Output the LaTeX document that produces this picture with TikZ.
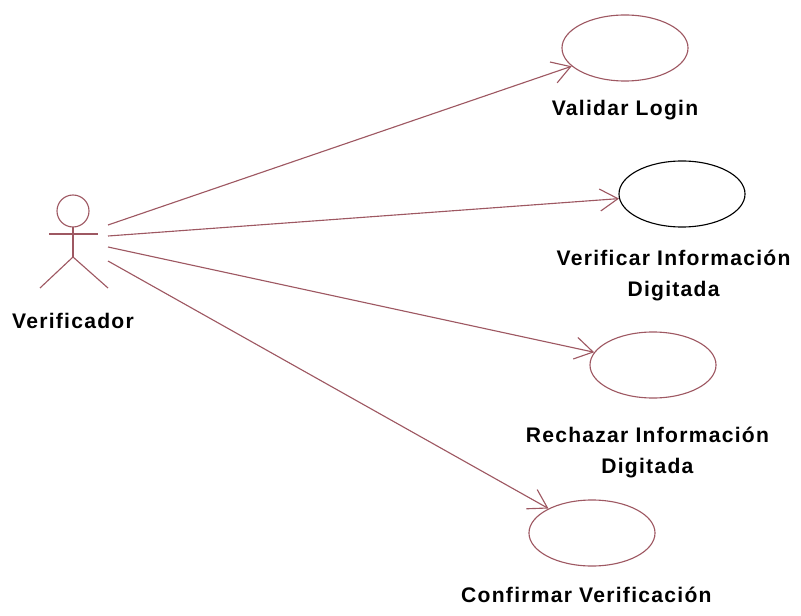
\documentclass[tikz,border=0pt]{standalone}
\usepackage{fontspec}
\setmainfont[LetterSpace=6]{Liberation Sans}
\usetikzlibrary{shapes.geometric,arrows.meta,positioning}
\definecolor{ucline}{RGB}{158,88,98}
\tikzset{
  usecase/.style={draw=ucline, ellipse, thick, minimum width=3.15cm, minimum height=1.65cm, inner sep=0pt},
  uclabel/.style={font=\bfseries\fontsize{15}{22}\selectfont, align=center, inner sep=0pt},
  assoc/.style={->, ucline, thick}
}
\begin{document}
\begin{tikzpicture}[x=0.025cm, y=-0.025cm, >={Straight Barb[length=4.5mm,width=5.5mm]}]
\useasboundingbox (0,0) rectangle (801,616);
% actor
\draw [ucline, thick] (73,211) circle (16);
\draw [ucline, thick] (73,227)--(73,257);
\draw [ucline, thick] (49,234)--(98,234);
\draw [ucline, thick] (73,257)--(40,288);
\draw [ucline, thick] (73,257)--(108,288);
\node [uclabel] (actor) at (73,321) {Verificador};
\coordinate (a1) at (108,225);
\coordinate (a2) at (108,236);
\coordinate (a3) at (108,247);
\coordinate (a4) at (108,261);
% use cases
\node [usecase] (login) at (625,48) {};
\node [uclabel, below=4.5mm of login] (loginT) {Validar Login};
\node [usecase, draw=black] (verif) at (682,194) {};
\node [uclabel, below=5.5mm of verif, xshift=-6] (verifT) {Verificar Información\\Digitada};
\node [usecase] (rech) at (653,365) {};
\node [uclabel, below=7mm of rech, xshift=-4] (rechT) {Rechazar Información\\Digitada};
\node [usecase] (conf) at (592,533) {};
\node [uclabel, below=5mm of conf, xshift=-4] (confT) {Confirmar Verificación};
% associations
\draw [assoc] (a1)--(login);
\draw [assoc] (a2)--(verif);
\draw [assoc] (a3)--(rech);
\draw [assoc] (a4)--(conf);
\end{tikzpicture}
\end{document}
